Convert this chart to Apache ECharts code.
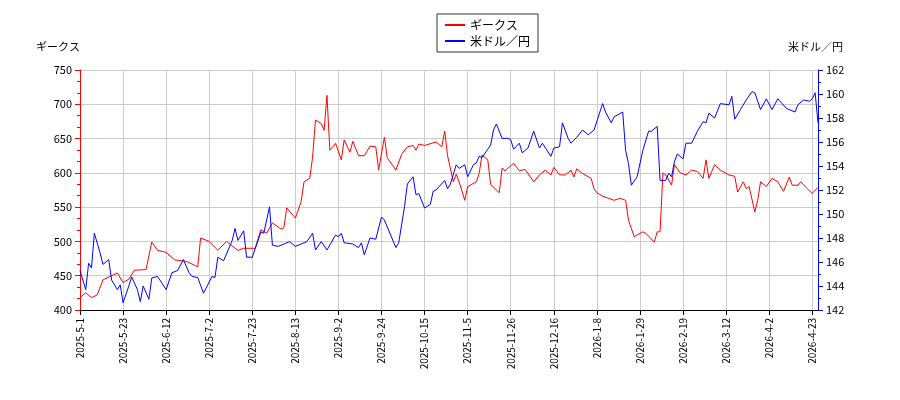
<!DOCTYPE html>
<html><head><meta charset="utf-8">
<script src="https://cdn.jsdelivr.net/npm/echarts@6/dist/echarts.min.js"></script>
<style>html,body{margin:0;padding:0;background:#fff}#c{width:900px;height:400px}</style>
</head><body><div id="c"></div>
<script>
const tickLabels = ["2025-5-1","2025-5-23","2025-6-12","2025-7-2","2025-7-23","2025-8-13","2025-9-2","2025-9-24","2025-10-15","2025-11-5","2025-11-26","2025-12-16","2026-1-8","2026-1-29","2026-2-19","2026-3-12","2026-4-2","2026-4-23"];
const geeksName = "ギークス";
const usdName = "米ドル／円";
const geeks = [[0,418],[2,425],[4,418],[6,422],[8,444],[13,454],[15,440],[17,445],[19,458],[23,459],[25,499],[27,487],[30,484],[33,473],[37,471],[41,463],[42,505],[45,500],[48,487],[51,500],[55,487],[57,490],[61,490],[63,517],[65,512],[67,527],[70,518],[71,520],[72,549],[75,534],[77,558],[78,587],[80,592],[81,623],[82,677],[84,672],[85,662],[86,713],[87,633],[89,643],[91,619],[92,648],[94,630],[95,646],[97,625],[99,625],[101,639],[103,638],[104,604],[106,652],[107,622],[110,604],[112,627],[114,638],[116,640],[117,633],[118,642],[120,640],[124,645],[126,638],[127,661],[128,625],[130,587],[131,598],[132,587],[134,560],[135,580],[138,587],[139,599],[140,626],[142,619],[143,583],[146,571],[147,607],[148,603],[151,614],[153,603],[155,605],[158,587],[160,597],[162,604],[164,597],[165,608],[167,597],[169,597],[171,604],[172,594],[173,606],[175,599],[178,592],[179,577],[180,571],[182,566],[184,563],[186,560],[188,563],[190,560],[191,531],[193,507],[196,514],[197,512],[200,499],[201,514],[202,514],[203,600],[204,597],[206,582],[207,612],[209,600],[211,597],[213,604],[215,602],[217,592],[218,619],[219,592],[221,612],[223,604],[226,597],[228,595],[229,572],[231,587],[232,577],[233,580],[235,543],[236,560],[237,587],[239,580],[241,592],[243,587],[245,573],[247,594],[248,582],[250,582],[251,587],[253,578],[255,570],[257,579]];
const usd = [[0,145.3],[2,143.7],[3,145.9],[4,145.5],[5,148.4],[7,146.75],[8,145.8],[10,146.2],[11,144.5],[13,143.7],[14,144.1],[15,142.6],[17,144.0],[18,144.75],[20,143.7],[21,142.7],[22,144.0],[24,142.9],[25,144.67],[27,144.8],[30,143.7],[32,145.1],[34,145.3],[36,146.2],[38,145.1],[39,144.8],[41,144.7],[43,143.4],[46,144.8],[47,144.7],[48,146.4],[50,146.1],[53,147.8],[54,148.8],[55,147.8],[57,148.6],[58,146.4],[60,146.4],[63,148.5],[64,148.4],[66,150.6],[67,147.4],[69,147.3],[73,147.7],[75,147.3],[79,147.7],[81,148.4],[82,147.0],[84,147.7],[86,147.0],[89,148.25],[90,148.1],[91,148.4],[92,147.6],[95,147.5],[97,147.2],[98,147.6],[99,146.6],[101,148.0],[103,147.9],[105,149.75],[106,149.5],[110,147.2],[111,147.6],[113,150.6],[114,152.5],[116,153.1],[117,151.6],[118,151.7],[120,150.5],[122,150.8],[123,151.9],[124,152.0],[127,152.8],[128,152.1],[129,152.5],[131,154.1],[132,153.8],[134,154.1],[135,153.1],[137,154.1],[138,154.25],[139,154.8],[140,154.7],[142,155.4],[143,155.75],[144,157.0],[145,157.5],[147,156.3],[149,156.3],[150,156.2],[151,155.4],[153,155.9],[154,155.1],[156,155.5],[158,156.9],[160,155.5],[161,155.9],[164,154.8],[165,155.5],[167,155.6],[168,157.6],[170,156.3],[171,155.9],[173,156.4],[175,157.0],[177,156.6],[179,157.0],[182,159.2],[183,158.5],[185,157.6],[186,158.1],[189,158.5],[190,155.3],[191,154.2],[192,152.4],[194,153.1],[196,155.3],[198,156.9],[199,156.9],[201,157.3],[202,152.8],[204,152.8],[205,153.4],[206,153.1],[207,154.36],[208,155.0],[210,154.6],[211,155.9],[213,155.9],[215,156.9],[217,157.7],[218,157.6],[219,158.4],[221,158.0],[223,159.2],[226,159.1],[227,159.8],[228,157.9],[230,158.7],[232,159.5],[234,160.2],[235,160.1],[237,158.7],[239,159.6],[241,158.7],[243,159.6],[246,158.8],[249,158.5],[250,159.1],[252,159.5],[254,159.4],[255,159.6],[256,160.1],[257,157.6]];

const chart = echarts.init(document.getElementById('c'));
const font = '"Noto Sans CJK JP", "DejaVu Sans", sans-serif';
chart.setOption({
  animation:false,
  textStyle:{fontFamily:font},
  legend:{orient:'vertical',left:437,top:14,padding:[5,8],itemGap:4,itemWidth:20,itemHeight:2,
    borderColor:'#333',borderWidth:1,borderRadius:0,textStyle:{fontSize:12,color:'#000'},
    icon:'rect',data:[geeksName,usdName]},
  grid:{left:80,right:82,top:70,bottom:90},
  xAxis:{type:'value',min:0,max:257,interval:15,
    axisLine:{lineStyle:{color:'#000'}},axisTick:{lineStyle:{color:'#000'}},
    axisLabel:{rotate:90,fontSize:10,color:'#000',showMaxLabel:false,formatter:v=>tickLabels[Math.round(v/15)]||''},
    splitLine:{show:true,lineStyle:{color:'#ccc'}}},
  yAxis:[
    {type:'value',min:400,max:750,interval:50,name:geeksName,nameLocation:'end',nameGap:18,
     nameTextStyle:{align:'right',color:'#000',fontSize:11,padding:[0,0,0,0]},
     axisLine:{show:true,lineStyle:{color:'#f00'}},axisTick:{show:true,lineStyle:{color:'#f00'}},
     minorTick:{show:true,splitNumber:3,length:3,lineStyle:{color:'#f00'}},
     axisLabel:{color:'#000',fontSize:11},splitLine:{show:true,lineStyle:{color:'#ccc'}}},
    {type:'value',min:142,max:162,interval:2,name:usdName,nameLocation:'end',nameGap:18,
     nameTextStyle:{align:'left',color:'#000',fontSize:11,padding:[0,0,0,-30]},
     axisLine:{show:true,lineStyle:{color:'#00f'}},axisTick:{show:true,lineStyle:{color:'#00f'}},
     minorTick:{show:true,splitNumber:2,length:3,lineStyle:{color:'#00f'}},
     axisLabel:{color:'#000',fontSize:11},splitLine:{show:false}}
  ],
  series:[
    {name:geeksName,type:'line',data:geeks,yAxisIndex:0,symbol:'none',lineStyle:{color:'#f00',width:1},itemStyle:{color:'#f00'}},
    {name:usdName,type:'line',data:usd,yAxisIndex:1,symbol:'none',lineStyle:{color:'#00f',width:1},itemStyle:{color:'#00f'}}
  ]
});
</script></body></html>
